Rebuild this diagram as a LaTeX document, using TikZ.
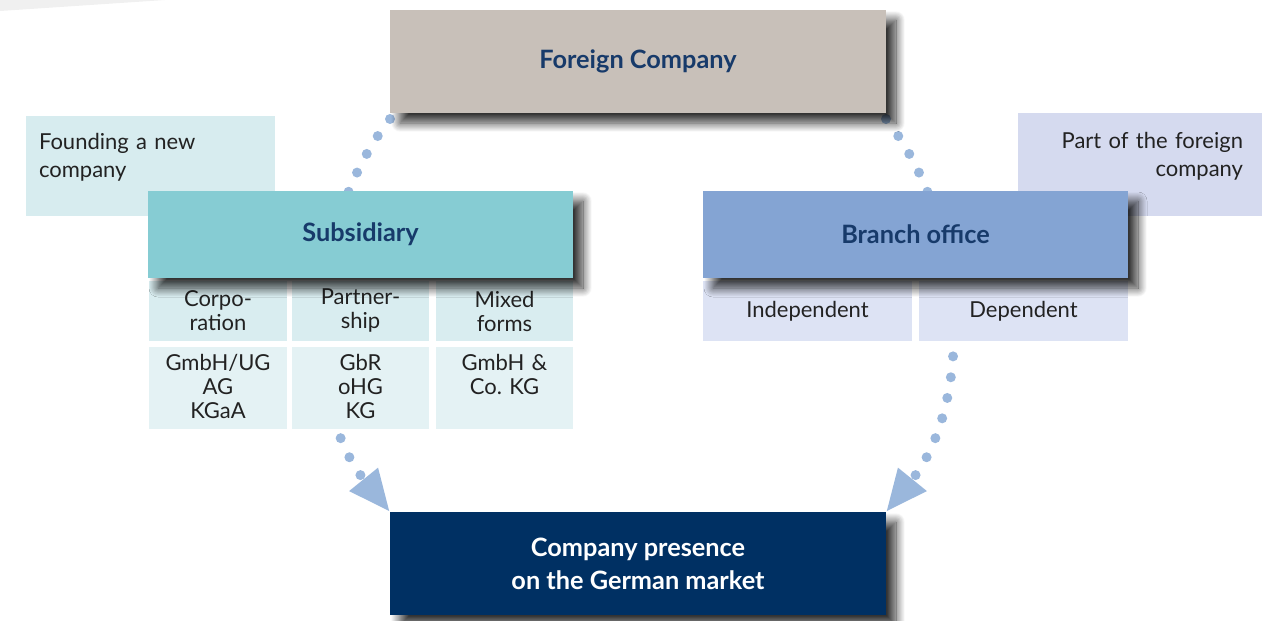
\documentclass[tikz,border=0pt]{standalone}
\usepackage{fontspec}
\setmainfont{Lato}
\usetikzlibrary{arrows.meta,shadows.blur}

\definecolor{navy}{HTML}{003063}
\definecolor{headtext}{HTML}{173A6A}
\definecolor{bodytext}{HTML}{222222}
\definecolor{fcgray}{HTML}{C8C0B9}
\definecolor{subteal}{HTML}{86CCD3}
\definecolor{subpale}{HTML}{D9EDF0}
\definecolor{subpaler}{HTML}{E4F2F4}
\definecolor{foundfill}{HTML}{D7ECEF}
\definecolor{brblue}{HTML}{84A4D3}
\definecolor{brpale}{HTML}{DDE3F4}
\definecolor{partfill}{HTML}{D5DAEF}
\definecolor{dotblue}{HTML}{9AB7DC}

\pgfdeclarelayer{background}
\pgfsetlayers{background,main}

\tikzset{
  box/.style={inner sep=0pt, outer sep=0pt, align=center},
  shadebox/.style={box, blur shadow={shadow xshift=10pt, shadow yshift=-10pt, shadow blur radius=9pt,
    shadow blur steps=16, shadow opacity=80}},
  bigbox/.style={shadebox, font=\fontsize{25.3}{33}\selectfont\bfseries, minimum width=496pt, minimum height=103pt},
  head/.style={shadebox, font=\fontsize{25.3}{30}\selectfont\bfseries, text=headtext, minimum width=425pt, minimum height=87pt},
  cell/.style={box, font=\fontsize{22}{24}\selectfont, text=bodytext, minimum height=60pt},
  lowcell/.style={box, font=\fontsize{22}{24}\selectfont, text=bodytext, fill=subpaler, anchor=north,
    text width=128pt, inner xsep=4pt, inner ysep=8pt, text height=15pt, text depth=51pt},
  side/.style={box, font=\fontsize{22}{28.5}\selectfont, text=bodytext, anchor=north west,
    inner xsep=13pt, inner ysep=16pt, text height=17pt, text depth=51pt},
  dots/.style={dotblue, line width=10pt, line cap=round, dash pattern=on 0pt off 21pt,
    -{Triangle[length=42pt,width=34pt]}, looseness=0.9}
}

\begin{document}
\begin{tikzpicture}[x=1pt,y=-1pt]
\useasboundingbox (0,0) rectangle (1278,621);
\fill[black!6] (0,0) -- (165,0) -- (0,11) -- cycle;

% notes behind the two headers
\node[side, fill=foundfill, text width=223pt, align=left] (found) at (26,116) {Founding a new\\company};
\node[side, fill=partfill, text width=206pt, align=right, inner xsep=19pt, inner ysep=18pt, text depth=50pt] (part) at (1018,113) {Part of the foreign\\company};

\node[bigbox, fill=fcgray, text=headtext] (fc) at (638,61.5) {Foreign Company};
\node[bigbox, fill=navy, text=white] (cp) at (638,563.5) {Company presence\\on the German market};

% subsidiary
\node[cell, fill=subpale, minimum width=138pt] (corp) at (218,311) {Corpo-\\ration};
\node[cell, fill=subpale, minimum width=137pt] (pship) at (360.5,311) {Partner-\\ship};
\node[cell, fill=subpale, minimum width=137pt] (mixed) at (504.5,311) {Mixed\\forms};
\node[lowcell, minimum width=138pt] (corpex) at (218,347) {GmbH/UG\\AG\\KGaA};
\node[lowcell, minimum width=137pt] (pshipex) at (360.5,347) {GbR\\oHG\\KG};
\node[lowcell, minimum width=137pt] (mixedex) at (504.5,347) {GmbH \&\\Co.\ KG};
\node[head, fill=subteal] (sub) at (360.5,234.5) {Subsidiary};

% branch office
\node[cell, fill=brpale, minimum width=209pt] (indep) at (807.5,311) {Independent};
\node[cell, fill=brpale, minimum width=209pt] (dep) at (1023.5,311) {Dependent};
\node[head, fill=brblue] (branch) at (915.5,234.5) {Branch office};

\begin{pgfonlayer}{background}
\draw[dots] ([yshift=-6pt]fc.south west) to[out=232,in=129] (cp.north west);
\draw[dots] ([yshift=-6pt]fc.south east) to[out=-52,in=51] (cp.north east);
\end{pgfonlayer}
\end{tikzpicture}
\end{document}
